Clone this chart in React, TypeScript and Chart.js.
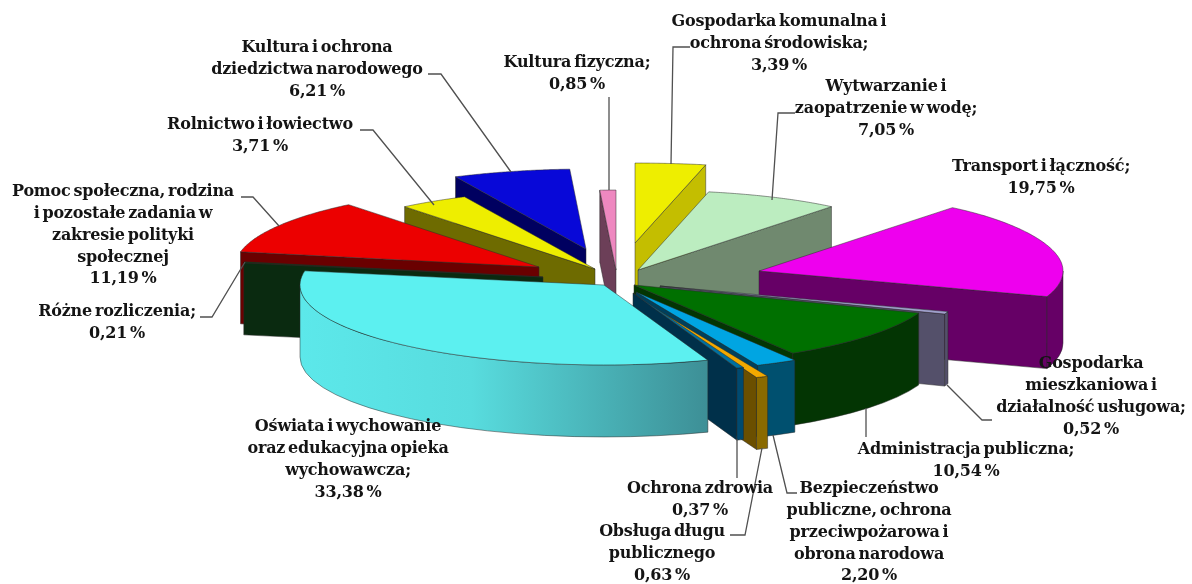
import React, { useEffect, useRef } from "react";
import { Chart, registerables } from "chart.js";

Chart.register(...registerables);

const categories = [
  "Gospodarka komunalna i\nochrona środowiska;",
  "Wytwarzanie i\nzaopatrzenie w wodę;",
  "Transport i łączność;",
  "Gospodarka\nmieszkaniowa i\ndziałalność usługowa;",
  "Administracja publiczna;",
  "Bezpieczeństwo\npubliczne, ochrona\nprzeciwpożarowa i\nobrona narodowa",
  "Obsługa długu\npublicznego",
  "Ochrona zdrowia",
  "Oświata i wychowanie\noraz edukacyjna opieka\nwychowawcza;",
  "Różne rozliczenia;",
  "Pomoc społeczna, rodzina\ni pozostałe zadania w\nzakresie polityki\nspołecznej",
  "Rolnictwo i łowiectwo",
  "Kultura i ochrona\ndziedzictwa narodowego",
  "Kultura fizyczna;",
];
const shares = [3.39, 7.05, 19.75, 0.52, 10.54, 2.2, 0.63, 0.37, 33.38, 0.21, 11.19, 3.71, 6.21, 0.85];

const topColors = ["#EEEE00", "#BCEDC0", "#EE00EE", "#A0A0CC", "#007000", "#00A5E2", "#F2A900", "#0070A0", "#5CF0F0", "#0B3A12", "#EC0000", "#EEEE00", "#0808D8", "#EE88C0"];
const faceColors = ["#C4BE00", "#70896F", "#660066", "#54506A", "#033503", "#00405C", "#6B4F00", "#00304A", "#3D8F96", "#0A2A10", "#6A0000", "#6E6B00", "#000060", "#6C3F58"];
const rimColors = ["#C4BE00", "#70896F", "#660066", "#54506A", "#033503", "#00506F", "#8A6A00", "#004A70", "#5CE8EA", "#0A2A10", "#7A0000", "#6E6B00", "#000060", "#6C3F58"];
const rimFadeTo = "#3D8F96";
const fadeSlice = 8;

const explodeX = [0, 3, 124, 25, -1, 1, 11, -2, -31, -92, -96, -40, -49, -19];
const explodeY = [-42, -15, -14, 1, 0, 7, 18, 8, 0, -8, -18, -16, -36, -15];
const paintOrder = [13, 12, 11, 10, 9, 0, 1, 2, 3, 4, 5, 6, 7, 8];

const TILT = 0.263;
const DEPTH = 72;
const FAR_RIGHT_STRETCH = 0.11;

const labelCenters = [
  [779, 22], [886, 87], [1041, 167], [1091, 364], [966, 450], [869, 489], [662, 532],
  [700, 489], [348, 427], [117, 312], [123, 192], [260, 125], [317, 48], [577, 63],
];
const lineStep = 21.8;

const leaders: number[][][] = [
  [[690, 47], [673, 47], [671, 164]],
  [[795, 113], [778, 113], [772, 200]],
  [],
  [[947, 385], [982, 420], [992, 420]],
  [[866, 408], [866, 437]],
  [[773, 435], [787, 493], [797, 493]],
  [[762, 448], [745, 535], [730, 535]],
  [[737, 439], [737, 478]],
  [],
  [[200, 317], [212, 317], [245, 262]],
  [[241, 197], [253, 197], [279, 226]],
  [[360, 130], [373, 130], [434, 205]],
  [[428, 74], [441, 74], [511, 172]],
  [[609, 97], [609, 190]],
];

const pie3d = {
  id: "pie3d",
  beforeDatasetDraw() {
    return false;
  },
  afterDatasetsDraw(chart: any) {
    const ctx: CanvasRenderingContext2D = chart.ctx;
    const arcs = chart.getDatasetMeta(0).data;

    paintOrder.forEach((i) => {
      const a = arcs[i];
      const r = a.outerRadius;
      const cx = a.x + explodeX[i];
      const cy = a.y + explodeY[i];
      const s = a.startAngle;
      const e = a.endAngle;
      const px = (t: number) => {
        const c = Math.cos(t);
        const n = Math.sin(t);
        const stretch = c > 0 && n < 0 ? 1 + FAR_RIGHT_STRETCH * Math.pow(-n, 4) : 1;
        return cx + r * c * stretch;
      };
      const py = (t: number) => cy + r * TILT * Math.sin(t);
      const outline = "rgba(40,40,40,0.7)";

      ctx.save();
      ctx.lineWidth = 0.7;
      ctx.lineJoin = "round";

      const face = (t: number, visible: boolean) => {
        if (!visible) return;
        ctx.beginPath();
        ctx.moveTo(cx, cy);
        ctx.lineTo(px(t), py(t));
        ctx.lineTo(px(t), py(t) + DEPTH);
        ctx.lineTo(cx, cy + DEPTH);
        ctx.closePath();
        ctx.fillStyle = faceColors[i];
        ctx.fill();
        ctx.strokeStyle = outline;
        ctx.stroke();
      };
      // A wall shows when its outward normal points towards the viewer
      face(s, Math.sin(s - Math.PI / 2) > 0.001);
      face(e, Math.sin(e + Math.PI / 2) > 0.001);

      // Outer rim: only the front half of the ellipse can be seen
      const fullTurn = Math.PI * 2;
      const ranges: number[][] = [];
      for (const k of [0, 1, -1]) {
        const lo = Math.max(s, k * fullTurn);
        const hi = Math.min(e, k * fullTurn + Math.PI);
        if (hi > lo) ranges.push([lo, hi]);
      }
      ranges.forEach(([lo, hi]) => {
        ctx.beginPath();
        ctx.ellipse(cx, cy, r, r * TILT, 0, lo, hi);
        ctx.lineTo(px(hi), py(hi) + DEPTH);
        ctx.ellipse(cx, cy + DEPTH, r, r * TILT, 0, hi, lo, true);
        ctx.closePath();
        if (i === fadeSlice) {
          const g = ctx.createLinearGradient(cx - r, 0, px(lo), 0);
          g.addColorStop(0, rimColors[i]);
          g.addColorStop(0.42, "#58DCDE");
          g.addColorStop(1, rimFadeTo);
          ctx.fillStyle = g;
        } else {
          ctx.fillStyle = rimColors[i];
        }
        ctx.fill();
        ctx.strokeStyle = outline;
        ctx.stroke();
      });

      // Top of the slice
      ctx.beginPath();
      ctx.moveTo(cx, cy);
      const steps = 60;
      for (let n = 0; n <= steps; n++) {
        const t = s + ((e - s) * n) / steps;
        ctx.lineTo(px(t), py(t));
      }
      ctx.closePath();
      ctx.fillStyle = a.options.backgroundColor;
      ctx.fill();
      ctx.strokeStyle = outline;
      ctx.stroke();
      ctx.restore();
    });

    // Leader lines
    ctx.save();
    ctx.strokeStyle = "#505050";
    ctx.lineWidth = 1.3;
    leaders.forEach((pts) => {
      if (!pts.length) return;
      ctx.beginPath();
      pts.forEach(([x, y], n) => (n ? ctx.lineTo(x, y) : ctx.moveTo(x, y)));
      ctx.stroke();
    });
    ctx.restore();

    // Data labels
    ctx.save();
    ctx.font = "bold 16px 'DejaVu Serif'";
    (ctx as any).wordSpacing = "-2.5px";
    (ctx as any).letterSpacing = "-0.2px";
    ctx.fillStyle = "#141414";
    ctx.textAlign = "center";
    ctx.textBaseline = "middle";
    chart.data.labels.forEach((name: string, i: number) => {
      const value = `${chart.data.datasets[0].data[i].toFixed(2).replace(".", ",")} %`;
      const rows = [...name.split("\n"), value];
      const [x, y] = labelCenters[i];
      rows.forEach((row, n) => ctx.fillText(row, x, y + n * lineStep));
    });
    ctx.restore();
  },
};

export default function App() {
  const ref = useRef<HTMLCanvasElement>(null);
  useEffect(() => {
    document.body.style.margin = "0";
    const chart = new Chart(ref.current as HTMLCanvasElement, {
      type: "pie",
      data: {
        labels: categories,
        datasets: [{ data: shares, backgroundColor: topColors, borderWidth: 0 }],
      },
      options: {
        animation: false,
        responsive: false,
        events: [],
        radius: 304,
        layout: { padding: { left: 78, bottom: 14 } },
        plugins: { legend: { display: false }, tooltip: { enabled: false } },
      } as any,
      plugins: [pie3d],
    });
    return () => chart.destroy();
  }, []);
  return (
    <div style={{ width: 1192, height: 584, background: "#fff" }}>
      <canvas ref={ref} width={1192} height={584} style={{ display: "block" }} />
    </div>
  );
}
